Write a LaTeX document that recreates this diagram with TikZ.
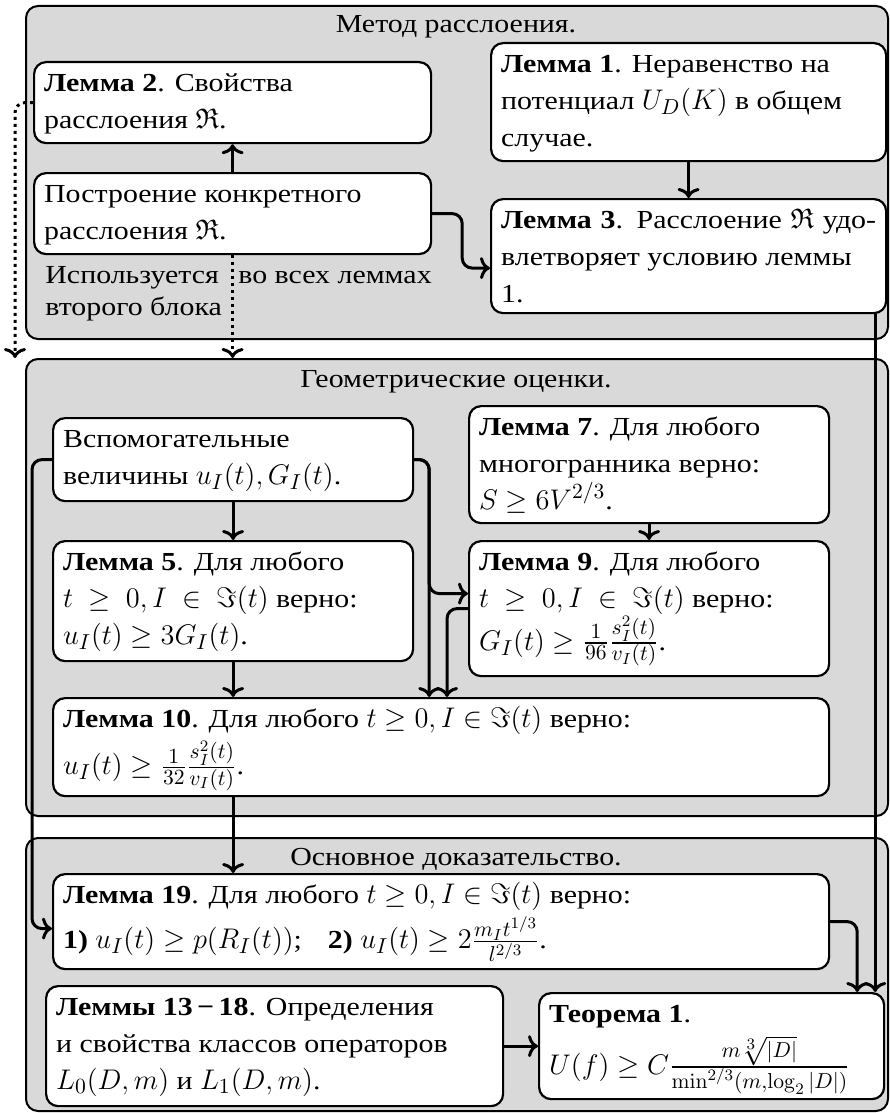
\RequirePackage{fix-cm}
\documentclass[tikz,border=0pt]{standalone}
\usepackage[no-math]{fontspec}
\setmainfont{Liberation Serif}[FakeStretch=1.15]
\usepackage{amssymb}
\DeclareMathSizes{13}{14.2}{10.8}{8}
\usetikzlibrary{arrows.meta,calc}
\definecolor{bgc}{HTML}{D9D9D9}
\tikzset{
 blkst/.style={draw, fill=bgc, rounded corners=6pt, line width=1pt, inner sep=0pt, anchor=north west},
 bx/.style={draw, fill=white, rounded corners=6pt, line width=1.1pt, inner xsep=5pt, inner ysep=2pt, anchor=north west, font=\fontsize{13}{18.35}\selectfont},
 arr/.style={-{Computer Modern Rightarrow[length=5pt,width=11pt]}, line width=1.5pt, rounded corners=5pt},
 dots/.style={arr, dash pattern=on 1.5pt off 2pt, line width=1.5pt},
 ttl/.style={font=\fontsize{13}{16}\selectfont, inner sep=0pt},
}
\newcommand\lembox[6]{\node[bx] (#1) at (#2,#3) {\parbox[t][\dimexpr(#5pt-#3pt)/2-4pt\relax][t]{\dimexpr(#4pt-#2pt)/2-10pt\relax}{\strut#6}};}
\begin{document}
\begin{tikzpicture}[x=0.5pt,y=-0.5pt]
\useasboundingbox (0,0) rectangle (889,1113);
% blocks
\node[blkst, minimum width=431pt, minimum height=166.5pt] (b1) at (25,5) {};
\node[blkst, minimum width=431pt, minimum height=228.5pt] (b2) at (25,358) {};
\node[blkst, minimum width=431pt, minimum height=136.5pt] (b3) at (25,837) {};
\node[ttl, anchor=base] (t1) at (456,33) {Метод расслоения.};
\node[ttl, anchor=base] (t2) at (456,387) {Геометрические оценки.};
\node[ttl, anchor=base] (t3) at (456,865) {Основное доказательство.};
% boxes
\lembox{l2}{33}{61}{430}{142}{\textbf{Лемма 2}. Свойства\\ расслоения $\mathfrak{R}$.}
\lembox{pc}{33}{172}{430}{253}{Построение конкретного\\ расслоения $\mathfrak{R}$.}
\lembox{l1}{490}{42}{885}{160}{\textbf{Лемма 1}. Неравенство на\\ потенциал $U_D(K)$ в общем\\ случае.}
\lembox{l3}{490}{198}{885}{312}{\textbf{Лемма 3}. Расслоение $\mathfrak{R}$ удо-\linebreak влетворяет условию леммы\\ 1.}
\lembox{va}{52}{417}{412}{500}{Вспомогательные\\ величины $u_I(t),G_I(t)$.}
\lembox{l5}{52}{540}{412}{660}{\textbf{Лемма 5}. Для любого\\ $t\ \geq\ 0,I\ \in\ \Im(t)$ верно:\\ $u_I(t)\geq 3G_I(t)$.}
\lembox{l7}{468}{405}{828}{522}{\textbf{Лемма 7}. Для любого\\ многогранника верно:\\ $S\geq 6V^{2/3}$.}
\lembox{l9}{468}{540}{828}{675}{\textbf{Лемма 9}. Для любого\\ $t\ \geq\ 0,I\ \in\ \Im(t)$ верно:\\ $G_I(t)\geq\frac{1}{96}\frac{s_I^2(t)}{v_I(t)}$.}
\lembox{l10}{52}{697}{828}{795}{\textbf{Лемма 10}. Для любого $t\geq 0,I\in\Im(t)$ верно:\\ $u_I(t)\geq\frac{1}{32}\frac{s_I^2(t)}{v_I(t)}$.}
\lembox{l19}{52}{873}{828}{968}{\textbf{Лемма 19}. Для любого $t\geq 0,I\in\Im(t)$ верно:\\ \textbf{1)} $u_I(t)\geq p(R_I(t))$;\quad \textbf{2)} $u_I(t)\geq 2\frac{m_It^{1/3}}{l^{2/3}}$.}
\lembox{l13}{45}{985}{502}{1105}{\textbf{Леммы 13\,−\,18}. Определения\\ и свойства классов операторов\\ $L_0(D,m)$ и $L_1(D,m)$.}
\lembox{th}{538}{992}{883}{1098}{\textbf{Теорема 1}.\\ $U(f)\geq C\frac{m\sqrt[3]{|D|}}{\min^{2/3}(m,\log_2|D|)}$}
% labels
\node[ttl, anchor=base west] (n1) at (45,283) {Используется};
\node[ttl, anchor=base west] (n1b) at (45,315) {второго блока};
\node[ttl, anchor=base west] (n2) at (238,283) {во всех леммах};
% connectors
\draw[arr] (pc) -- (l2);
\draw[arr] (l1) -- (l3);
\draw[arr] (pc.east) -- ++(30,0) |- ($(l3.west)+(0,12)$);
\draw[dots] (pc.south) -- (pc.south |- b2.north);
\draw[dots] (l2.west) -| ($(b2.north west)+(-10,0)$);
\coordinate (tA) at ($(th.north east)+(-10,0)$);
\coordinate (tB) at ($(th.north east)+(-28,0)$);
\draw[arr] (l3.south -| tA) -- (tA);
\draw[arr] (l19.east) -| (tB);
\draw[arr] (va) -- (l5);
\draw[arr] (l5.south) -- (l5.south |- l10.north);
\draw[arr] (l7) -- (l9);
\coordinate (c1) at ($(va.east)+(15,0)$);
\draw[arr] (va.east) -- (c1) -- (c1 |- l10.north);
\draw[arr] (va.east) -- (c1) |- ($(l9.west)+(0,-15)$);
\coordinate (c2) at ($(l9.west)+(-21,0)$);
\draw[arr] (l9.west) -| (c2 |- l10.north);
\draw[arr] (l10.south -| va.south) -- (l19.north -| va.south);
\coordinate (c3) at ($(va.west)+(-20,0)$);
\draw[arr] (va.west) -- (c3) |- ($(l19.west)+(0,7)$);
\draw[arr] (l13) -- (th);
\end{tikzpicture}
\end{document}
